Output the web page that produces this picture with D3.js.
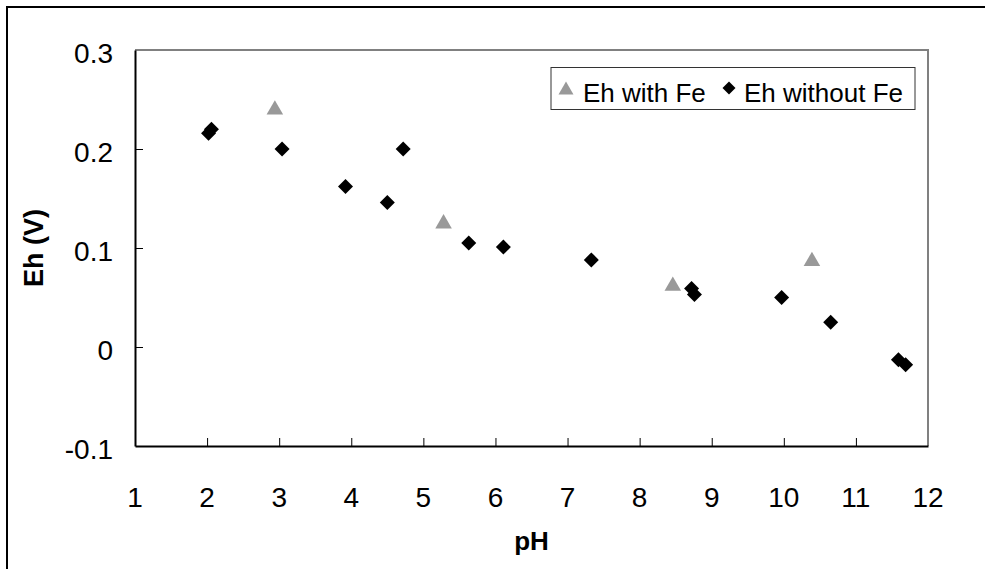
<!DOCTYPE html>
<html>
<head>
<meta charset="utf-8">
<script src="https://cdn.jsdelivr.net/npm/d3@7"></script>
<style>
  html, body { margin: 0; padding: 0; background: #fff; }
  svg { display: block; }
  text { font-family: "Liberation Sans", Arial, sans-serif; fill: #000; }
</style>
</head>
<body>
<svg id="chart" width="985" height="569"></svg>
<script>
// ---- data ----
const phWithFe = [2.94, 5.28, 8.46, 10.39];
const ehWithFe = [0.242, 0.127, 0.064, 0.089];

const phWithoutFe = [2.02, 2.06, 3.04, 3.92, 4.50, 4.72, 5.63, 6.11, 7.33, 8.72, 8.76, 9.97, 10.65, 11.59, 11.69];
const ehWithoutFe = [0.216, 0.220, 0.200, 0.162, 0.146, 0.200, 0.105, 0.101, 0.088, 0.059, 0.053, 0.050, 0.025, -0.013, -0.018];

const xTicks = [1, 2, 3, 4, 5, 6, 7, 8, 9, 10, 11, 12];
const yTicks = [-0.1, 0, 0.1, 0.2, 0.3];
const yTickLabels = ["-0.1", "0", "0.1", "0.2", "0.3"];
const seriesNames = ["Eh with Fe", "Eh without Fe"];
const xTitle = "pH";
const yTitle = "Eh (V)";

// ---- layout ----
const W = 985, H = 569;
const plot = { left: 135, right: 928, top: 50, bottom: 446 };
const svg = d3.select("#chart");

// outer frame (extends past the right/bottom edges)
svg.append("rect").attr("x", 7).attr("y", 7).attr("width", W + 20).attr("height", H + 20)
  .attr("fill", "none").attr("stroke", "#000").attr("stroke-width", 2);

const x = d3.scaleLinear().domain([1, 12]).range([plot.left, plot.right]);
const y = d3.scaleLinear().domain([-0.1, 0.3]).range([plot.bottom, plot.top]);

// plot area border top/right gray
svg.append("path")
  .attr("d", `M${plot.left},${plot.top}H${plot.right}V${plot.bottom}`)
  .attr("fill", "none").attr("stroke", "#808080").attr("stroke-width", 2);

// axes (ticks inward)
const xAxis = d3.axisBottom(x).tickValues(xTicks.slice(1, -1)).tickSizeInner(-8).tickSizeOuter(0).tickFormat("");
const gx = svg.append("g").attr("transform", `translate(0,${plot.bottom})`).call(xAxis);
gx.select(".domain").attr("stroke", "#000").attr("stroke-width", 2);
gx.selectAll(".tick line").attr("stroke", "#000").attr("stroke-width", 1);

const yAxis = d3.axisLeft(y).tickValues(yTicks.slice(1, -1)).tickSizeInner(-8).tickSizeOuter(0).tickFormat("");
const gy = svg.append("g").attr("transform", `translate(${plot.left},0)`).call(yAxis);
gy.select(".domain").attr("stroke", "#000").attr("stroke-width", 2);
gy.selectAll(".tick line").attr("stroke", "#000").attr("stroke-width", 1);

// tick labels
svg.append("g").selectAll("text").data(xTicks).join("text")
  .attr("x", d => x(d)).attr("y", plot.bottom + 61)
  .attr("text-anchor", "middle").attr("font-size", 28)
  .text(d => String(d));

svg.append("g").selectAll("text").data(yTicks).join("text")
  .attr("x", plot.left - 22).attr("y", d => y(d) + 12.5)
  .attr("text-anchor", "end").attr("font-size", 28)
  .text((d, i) => yTickLabels[i]);

// axis titles
svg.append("text").attr("x", (plot.left + plot.right) / 2).attr("y", 550)
  .attr("text-anchor", "middle").attr("font-size", 26).attr("font-weight", "bold")
  .text(xTitle);
svg.append("text").attr("transform", `translate(43,${(plot.top + plot.bottom) / 2}) rotate(-90)`)
  .attr("text-anchor", "middle").attr("font-size", 27).attr("font-weight", "bold")
  .text(yTitle);

// marker shapes
const diamond = s => `M0,${-s}L${s},0L0,${s}L${-s},0Z`;
const triangle = s => `M0,${-s}L${s * 1.15},${s}L${-s * 1.15},${s}Z`;

// series: without Fe (diamonds)
svg.append("g").selectAll("path").data(phWithoutFe).join("path")
  .attr("transform", (d, i) => `translate(${x(d)},${y(ehWithoutFe[i])})`)
  .attr("d", diamond(7.5)).attr("fill", "#000");

// series: with Fe (triangles)
svg.append("g").selectAll("path").data(phWithFe).join("path")
  .attr("transform", (d, i) => `translate(${x(d)},${y(ehWithFe[i])})`)
  .attr("d", triangle(7.2)).attr("fill", "#999999");

// legend
const lg = svg.append("g");
lg.append("rect").attr("x", 551).attr("y", 67.5).attr("width", 364).attr("height", 42)
  .attr("fill", "#fff").attr("stroke", "#333").attr("stroke-width", 1);
lg.append("path").attr("transform", "translate(566,88)").attr("d", triangle(6.5)).attr("fill", "#999999");
lg.append("text").attr("x", 583).attr("y", 102).attr("font-size", 26).text(seriesNames[0]);
lg.append("path").attr("transform", "translate(729,88)").attr("d", diamond(6.5)).attr("fill", "#000");
lg.append("text").attr("x", 744).attr("y", 102).attr("font-size", 26).text(seriesNames[1]);
</script>
</body>
</html>
